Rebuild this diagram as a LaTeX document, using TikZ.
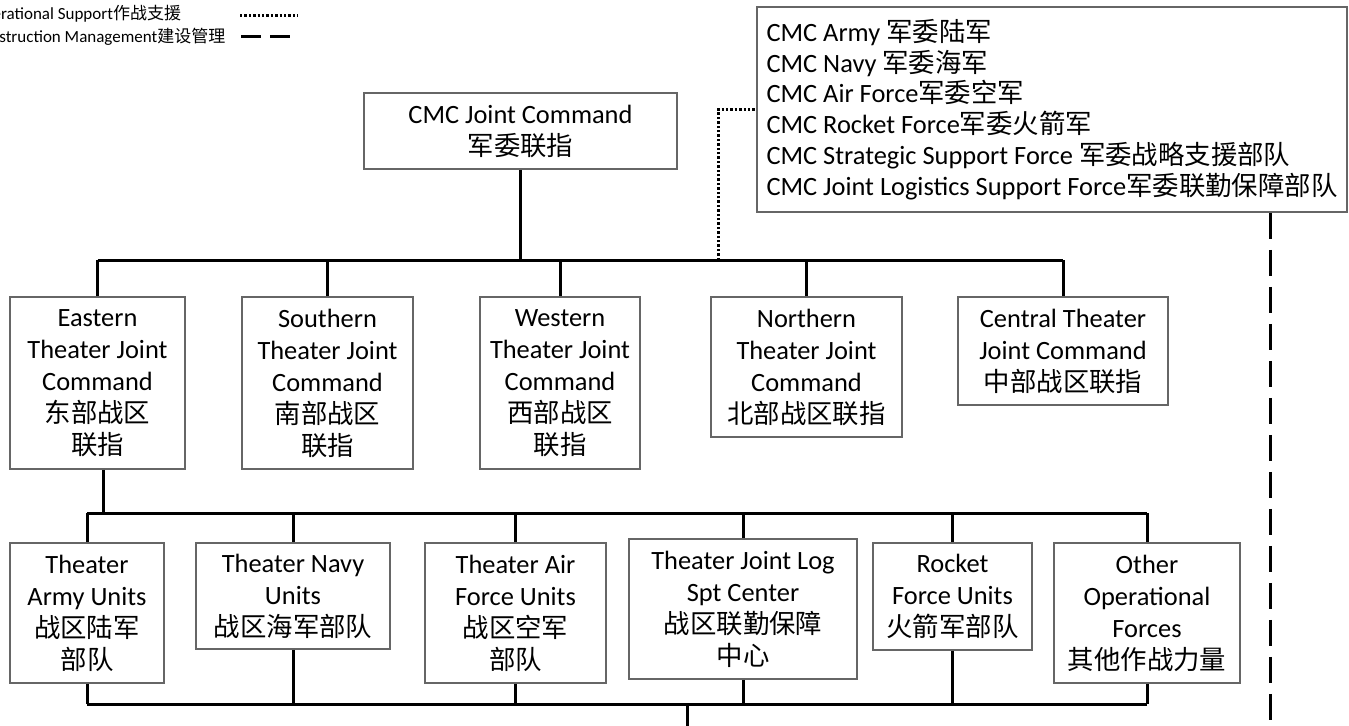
\documentclass[tikz,border=0pt]{standalone}
\usepackage{fontspec}
\setmainfont{Carlito}
\newfontfamily\cjk{Noto Sans CJK SC}
\newcommand{\zh}[1]{{\cjk #1}}

\tikzset{
    box/.style={draw=black!60, line width=0.8pt, align=center, inner sep=0pt,
        font=\fontsize{13.2}{16}\selectfont},
    link/.style={line width=1.5pt},
    supp/.style={line width=1.5pt, dash pattern=on 1.2pt off 1pt},
    mgmt/.style={line width=1.5pt, dash pattern=on 13pt off 5.5pt},
    legend/.style={anchor=west, inner sep=0pt, font=\fontsize{8.5}{11}\selectfont},
}

\begin{document}
\begin{tikzpicture}[x=0.5pt,y=-0.5pt]
        \useasboundingbox (0,0) rectangle (1349,725);
        \fill[white] (0,0) rectangle (1349,725);
        \clip (0,0) rectangle (1349,725);

        % Legend
        \node[legend] (legsupp) at (-28,14) {Operational Support\zh{作战支援}};
        \node[legend] (legmgmt) at (-28,37) {Construction Management\zh{建设管理}};
        \draw[supp] (240,15) -- (298,15);
        \draw[mgmt, dash pattern=on 10pt off 4.5pt] (241,36) -- (298,36);

        % CMC
        \node[box, minimum width=156.5pt, minimum height=38pt] (cmc) at (520.5,131)
            {CMC Joint Command\\\zh{军委联指}};
        \node[box, align=left, minimum width=295pt, minimum height=102.5pt,
            font=\fontsize{13.2}{15.4}\selectfont] (services) at (1052,109.5)
            {CMC Army \zh{军委陆军}\\
             CMC Navy \zh{军委海军}\\
             CMC Air Force\zh{军委空军}\\
             CMC Rocket Force\zh{军委火箭军}\\
             CMC Strategic Support Force \zh{军委战略支援部队}\\
             CMC Joint Logistics Support Force\zh{军委联勤保障部队}};

        % Theater commands
        \node[box, minimum width=87.5pt, minimum height=86pt] (eastern) at (97.5,383)
            {Eastern\\Theater Joint\\Command\\\zh{东部战区}\\\zh{联指}};
        \node[box, minimum width=85.5pt, minimum height=86pt] (southern) at (327.5,383)
            {Southern\\Theater Joint\\Command\\\zh{南部战区}\\\zh{联指}};
        \node[box, minimum width=80pt, minimum height=86pt] (western) at (560,383)
            {Western\\Theater Joint\\Command\\\zh{西部战区}\\\zh{联指}};
        \node[box, minimum width=95.5pt, minimum height=70pt] (northern) at (806.5,367)
            {Northern\\Theater Joint\\Command\\\zh{北部战区联指}};
        \node[box, minimum width=105pt, minimum height=54pt] (central) at (1063,351)
            {Central Theater\\Joint Command\\\zh{中部战区联指}};

        % Theater units
        \node[box, minimum width=77pt, minimum height=70pt] (army) at (87,613)
            {Theater\\Army Units\\\zh{战区陆军}\\\zh{部队}};
        \node[box, minimum width=97pt, minimum height=53pt] (navy) at (293,596)
            {Theater Navy\\Units\\\zh{战区海军部队}};
        \node[box, minimum width=90.5pt, minimum height=70pt] (air) at (515.5,613)
            {Theater Air\\Force Units\\\zh{战区空军}\\\zh{部队}};
        \node[box, minimum width=114pt, minimum height=70pt] (log) at (743,609)
            {Theater Joint Log\\Spt Center\\\zh{战区联勤保障}\\\zh{中心}};
        \node[box, minimum width=79.5pt, minimum height=53.5pt] (rocket) at (952.5,596.5)
            {Rocket\\Force Units\\\zh{火箭军部队}};
        \node[box, minimum width=93pt, minimum height=70pt] (other) at (1147,613)
            {Other\\Operational\\Forces\\\zh{其他作战力量}};

        % Buses
        \coordinate (bus1) at (0,260);
        \coordinate (bus2) at (0,513);
        \coordinate (bus3) at (0,704);
        \coordinate (hq) at (687,730);

        \draw[link] (cmc.south) -- (cmc.south |- bus1);
        \draw[link] (eastern.north |- bus1) -- (central.north |- bus1);
        \foreach \n in {eastern,southern,western,northern,central}
            \draw[link] (\n.north) -- (\n.north |- bus1);

        \draw[link] ([xshift=2.75pt]eastern.south) -- ([xshift=2.75pt]eastern.south |- bus2);
        \draw[link] (army.north |- bus2) -- (other.north |- bus2);
        \draw[link] (army.south |- bus3) -- (other.south |- bus3);
        \foreach \n in {army,navy,air,log,rocket,other} {
            \draw[link] (\n.north) -- (\n.north |- bus2);
            \draw[link] (\n.south) -- (\n.south |- bus3);
        }
        \draw[link] (hq |- bus3) -- (hq);

        % Support and management lines
        \coordinate (supp) at (718,260);
        \coordinate (mgmt) at (1270,730);
        \draw[supp] (supp) |- (services.west);
        \draw[mgmt] (services.south -| mgmt) -- (mgmt);

    \end{tikzpicture}
\end{document}
